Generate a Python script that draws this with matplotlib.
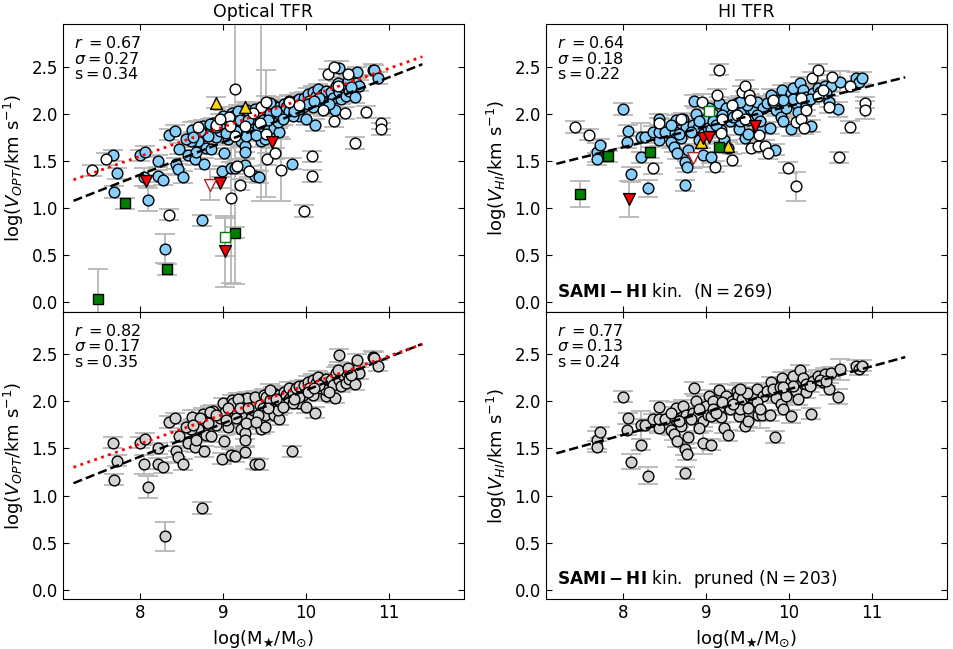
import numpy as np
import matplotlib
matplotlib.use('Agg')
import matplotlib.pyplot as plt

# ---------------------------------------------------------------
# Data: (log M*, log V, error on log V)
# ---------------------------------------------------------------

# Optical TFR, SAMI-HI kinematic sample (blue in top panel, grey in pruned panel)
opt_kin = [
    (7.68, 1.56, 0.06), (7.73, 1.37, 0.06), (7.69, 1.17, 0.06), (8.00, 1.56, 0.06),
    (8.06, 1.60, 0.06), (8.05, 1.33, 0.10), (8.10, 1.09, 0.12), (8.22, 1.50, 0.06),
    (8.22, 1.34, 0.06), (8.28, 1.30, 0.06), (8.30, 0.57, 0.155), (8.35, 1.78, 0.06),
    (8.42, 1.82, 0.06), (8.43, 1.47, 0.06), (8.46, 1.41, 0.06), (8.47, 1.63, 0.06),
    (8.52, 1.33, 0.06), (8.58, 1.56, 0.06), (8.63, 1.83, 0.08), (8.66, 1.52, 0.06),
    (8.68, 1.59, 0.06), (8.75, 0.87, 0.06), (8.77, 1.47, 0.06), (8.76, 1.87, 0.06),
    (8.75, 1.77, 0.06), (8.70, 1.71, 0.06), (8.61, 1.71, 0.06), (8.56, 1.73, 0.06),
    (8.80, 1.64, 0.06), (8.86, 1.63, 0.06), (8.88, 1.90, 0.06), (8.86, 1.82, 0.06),
    (8.92, 1.75, 0.06), (8.96, 1.82, 0.06), (8.99, 1.39, 0.06), (9.01, 1.58, 0.06),
    (9.00, 1.98, 0.06), (9.02, 1.89, 0.06), (9.06, 1.73, 0.06), (9.10, 1.43, 0.06),
    (9.15, 1.42, 0.06), (9.11, 2.01, 0.06), (9.12, 1.93, 0.06), (9.16, 1.82, 0.06),
    (9.22, 1.71, 0.06), (9.26, 1.66, 0.06), (9.27, 1.59, 0.06), (9.27, 1.46, 0.06),
    (9.23, 2.03, 0.06), (9.29, 2.04, 0.06), (9.34, 1.82, 0.06), (9.36, 1.91, 0.06),
    (9.37, 1.94, 0.06), (9.39, 2.05, 0.06), (9.38, 1.34, 0.06), (9.43, 1.33, 0.06),
    (9.44, 1.96, 0.06), (9.48, 1.93, 0.06), (9.50, 1.86, 0.06), (9.46, 1.71, 0.06),
    (9.50, 1.73, 0.06), (9.49, 2.07, 0.06), (9.52, 2.05, 0.06), (9.56, 2.01, 0.06),
    (9.60, 2.09, 0.06), (9.62, 1.85, 0.06), (9.67, 1.81, 0.06), (9.66, 1.91, 0.06),
    (9.68, 2.07, 0.06), (9.68, 2.00, 0.06), (9.73, 2.10, 0.06), (9.76, 2.07, 0.06),
    (9.80, 2.14, 0.06), (9.80, 2.03, 0.06), (9.83, 1.47, 0.06), (9.84, 2.09, 0.06),
    (9.88, 2.14, 0.06), (9.91, 1.98, 0.06), (9.92, 2.16, 0.06), (9.98, 2.17, 0.06),
    (10.00, 1.94, 0.06), (10.02, 2.21, 0.06), (10.08, 2.07, 0.06), (10.08, 2.23, 0.06),
    (10.11, 1.88, 0.06), (10.12, 2.19, 0.06), (10.14, 2.26, 0.06), (10.18, 2.14, 0.06),
    (10.20, 2.21, 0.06), (10.24, 2.06, 0.06), (10.24, 2.12, 0.06), (10.24, 2.24, 0.06),
    (10.30, 2.23, 0.06), (10.32, 2.17, 0.06), (10.35, 2.04, 0.06), (10.36, 2.30, 0.06),
    (10.40, 2.49, 0.07), (10.40, 2.23, 0.06), (10.42, 2.16, 0.06), (10.44, 2.28, 0.06),
    (10.48, 2.31, 0.06), (10.48, 2.19, 0.06), (10.52, 2.24, 0.06), (10.56, 2.31, 0.06),
    (10.59, 2.18, 0.06), (10.60, 2.33, 0.06), (10.61, 2.44, 0.06), (10.64, 2.30, 0.06),
    (10.80, 2.47, 0.06), (10.82, 2.46, 0.06), (10.87, 2.38, 0.06), (9.12, 1.98, 0.06),
    (9.18, 2.03, 0.06), (9.20, 1.93, 0.06), (9.30, 1.93, 0.06), (9.42, 1.86, 0.06),
    (9.54, 1.93, 0.06), (9.56, 2.12, 0.06), (9.84, 1.98, 0.06), (9.96, 2.07, 0.06),
    (10.04, 2.14, 0.06), (10.16, 2.17, 0.06), (10.28, 2.10, 0.06), (10.38, 2.33, 0.06),
    (10.50, 2.35, 0.06), (10.54, 2.28, 0.06), (8.84, 1.89, 0.06), (8.92, 1.86, 0.06),
    (9.06, 1.93, 0.06), (8.82, 1.77, 0.06), (9.04, 1.80, 0.06), (9.28, 1.77, 0.06),
    (9.40, 1.78, 0.06), (8.72, 1.82, 0.06), (8.64, 1.75, 0.06), (9.64, 2.03, 0.06),
    (9.72, 1.94, 0.06), (9.92, 2.05, 0.06), (10.02, 2.10, 0.06), (10.10, 2.14, 0.06),
    (9.86, 2.03, 0.06),
]

# Optical TFR, galaxies removed from the kinematic sample (open circles)
opt_other = [
    (7.42, 1.40, 0.06), (7.59, 1.52, 0.06), (8.35, 0.93, 0.06), (8.70, 1.86, 0.06),
    (9.14, 2.26, 2.06), (9.07, 1.97, 0.06), (8.92, 1.88, 0.06), (9.10, 1.11, 0.90),
    (9.17, 1.45, 0.06), (9.21, 1.25, 0.06), (9.26, 1.87, 0.06), (9.31, 1.39, 0.06),
    (9.45, 1.90, 0.06), (9.46, 2.07, 1.00), (9.52, 2.13, 0.06), (9.52, 1.79, 0.67),
    (9.53, 1.52, 0.06), (9.63, 1.58, 0.06), (9.70, 1.40, 0.33), (9.36, 2.01, 0.06),
    (9.98, 0.97, 0.06), (10.07, 1.55, 0.06), (10.07, 1.34, 0.06), (10.20, 2.04, 0.06),
    (10.34, 1.92, 0.06), (10.47, 2.01, 0.06), (10.59, 1.69, 0.06), (10.72, 2.02, 0.06),
    (10.90, 1.90, 0.06), (10.90, 1.84, 0.06), (10.27, 2.42, 0.06), (10.34, 2.50, 0.06),
    (10.50, 2.42, 0.06), (10.38, 2.29, 0.06), (9.79, 2.13, 0.06), (9.92, 2.09, 0.06),
    (8.96, 1.94, 0.06), (9.08, 1.87, 0.06), (9.15, 1.76, 0.06),
]
opt_up = [(8.92, 2.12, 0.06), (9.26, 2.07, 0.06)]
opt_down = [(8.07, 1.29, 0.06), (8.97, 1.27, 0.06), (9.03, 0.54, 0.38), (9.59, 1.70, 0.06)]
opt_down_open = [(8.84, 1.25, 0.16)]
opt_sq = [(7.82, 1.05, 0.06), (8.33, 0.35, 0.06), (9.15, 0.74, 0.06), (7.50, 0.04, 0.31)]
opt_sq_open = [(9.03, 0.69, 0.20)]

# HI TFR, SAMI-HI kinematic sample
hi_kin = [
    (7.69, 1.59, 0.10), (7.69, 1.52, 0.06), (7.72, 1.67, 0.06), (8.00, 2.05, 0.06),
    (8.05, 1.70, 0.06), (8.06, 1.82, 0.06), (8.10, 1.36, 0.08), (8.22, 1.75, 0.15),
    (8.22, 1.54, 0.06), (8.27, 1.75, 0.06), (8.30, 1.21, 0.09), (8.36, 1.81, 0.06),
    (8.43, 1.72, 0.06), (8.43, 1.81, 0.06), (8.44, 1.94, 0.06), (8.51, 1.81, 0.06),
    (8.58, 1.70, 0.06), (8.62, 1.65, 0.06), (8.63, 1.81, 0.06), (8.64, 1.93, 0.06),
    (8.65, 1.58, 0.06), (8.70, 1.74, 0.06), (8.72, 1.95, 0.06), (8.75, 1.49, 0.06),
    (8.77, 1.44, 0.06), (8.78, 1.62, 0.06), (8.75, 1.24, 0.06), (8.76, 1.86, 0.06),
    (8.84, 1.88, 0.06), (8.86, 2.14, 0.06), (8.88, 2.00, 0.06), (8.90, 1.85, 0.06),
    (8.96, 1.56, 0.12), (8.96, 1.79, 0.06), (8.98, 1.93, 0.06), (9.00, 1.95, 0.06),
    (9.02, 1.85, 0.06), (9.04, 2.06, 0.06), (9.06, 1.54, 0.06), (9.06, 1.84, 0.06),
    (9.09, 2.00, 0.06), (9.16, 2.12, 0.06), (9.16, 1.93, 0.06), (9.18, 1.83, 0.06),
    (9.22, 1.72, 0.06), (9.24, 2.06, 0.06), (9.27, 1.64, 0.06), (9.29, 1.92, 0.06),
    (9.31, 2.00, 0.06), (9.37, 2.11, 0.06), (9.39, 2.06, 0.06), (9.40, 1.84, 0.06),
    (9.41, 1.92, 0.06), (9.43, 2.02, 0.06), (9.47, 1.74, 0.06), (9.51, 1.93, 0.06),
    (9.51, 1.79, 0.06), (9.53, 2.05, 0.06), (9.57, 2.04, 0.06), (9.61, 2.13, 0.06),
    (9.63, 1.85, 0.06), (9.67, 1.85, 0.06), (9.69, 2.06, 0.06), (9.73, 2.11, 0.06),
    (9.77, 1.85, 0.06), (9.78, 2.20, 0.06), (9.83, 1.62, 0.06), (9.85, 2.04, 0.06),
    (9.91, 1.97, 0.06), (9.92, 2.25, 0.06), (9.93, 1.92, 0.06), (9.99, 2.11, 0.06),
    (10.02, 1.84, 0.07), (10.02, 2.22, 0.06), (10.05, 2.27, 0.06), (10.09, 2.11, 0.06),
    (10.13, 2.33, 0.06), (10.17, 2.25, 0.06), (10.20, 2.10, 0.06), (10.21, 2.18, 0.06),
    (10.26, 1.87, 0.06), (10.29, 2.22, 0.06), (10.35, 2.27, 0.06), (10.41, 2.20, 0.06),
    (10.44, 2.29, 0.06), (10.48, 2.13, 0.06), (10.51, 2.30, 0.06), (10.59, 2.05, 0.08),
    (10.62, 2.34, 0.11), (10.81, 2.38, 0.06), (10.84, 2.34, 0.06), (10.88, 2.38, 0.06),
    (9.08, 1.92, 0.06), (9.20, 1.99, 0.06), (9.33, 1.97, 0.06), (9.49, 2.09, 0.06),
    (9.61, 1.99, 0.06), (9.81, 2.13, 0.06), (9.89, 2.15, 0.06), (9.97, 2.06, 0.06),
    (10.05, 2.16, 0.06), (10.25, 2.16, 0.06), (10.37, 2.23, 0.06), (8.92, 1.92, 0.06),
    (8.82, 1.81, 0.06), (9.12, 1.88, 0.06), (9.41, 2.13, 0.06), (9.65, 1.92, 0.20),
    (10.11, 2.02, 0.06), (9.93, 2.15, 0.06), (10.45, 2.22, 0.06), (8.58, 1.88, 0.06),
    (8.68, 1.79, 0.06), (8.92, 1.72, 0.06),
]

# HI TFR, galaxies removed from the kinematic sample (open circles)
hi_other = [
    (7.42, 1.86, 0.06), (7.59, 1.78, 0.06), (8.36, 1.42, 0.06), (8.44, 1.90, 0.06),
    (8.70, 1.94, 0.06), (8.95, 2.13, 0.08), (9.16, 2.47, 0.06), (9.14, 2.20, 0.06),
    (9.11, 1.44, 0.06), (9.18, 1.80, 0.06), (9.20, 1.94, 0.06), (9.32, 2.09, 0.06),
    (9.31, 1.51, 0.06), (9.37, 1.99, 0.06), (9.43, 2.23, 0.06), (9.47, 2.30, 0.06),
    (9.52, 2.20, 0.06), (9.53, 2.15, 0.06), (9.47, 1.95, 0.06), (9.54, 1.64, 0.06),
    (9.64, 1.78, 0.06), (9.63, 1.66, 0.06), (9.71, 1.66, 0.06), (9.75, 1.58, 0.06),
    (9.81, 2.15, 0.06), (9.99, 1.43, 0.06), (10.08, 1.23, 0.15), (10.08, 1.91, 0.06),
    (10.14, 1.94, 0.06), (10.18, 1.85, 0.06), (10.21, 2.04, 0.06), (10.15, 2.17, 0.06),
    (10.28, 2.38, 0.06), (10.35, 2.47, 0.06), (10.35, 2.19, 0.06), (10.41, 2.25, 0.06),
    (10.48, 2.07, 0.06), (10.52, 2.39, 0.06), (10.60, 1.54, 0.06), (10.73, 2.29, 0.06),
    (10.74, 1.86, 0.06), (10.92, 2.12, 0.06), (10.92, 2.04, 0.10),
]
hi_up = [(8.94, 1.70, 0.06), (9.27, 1.66, 0.06)]
hi_down = [(8.07, 1.10, 0.19), (8.96, 1.74, 0.06), (9.04, 1.75, 0.06), (9.59, 1.87, 0.06)]
hi_down_open = [(8.84, 1.53, 0.10)]
hi_sq = [(7.49, 1.15, 0.135), (7.82, 1.55, 0.06), (8.33, 1.59, 0.06), (9.16, 1.65, 0.06)]
hi_sq_open = [(9.04, 2.03, 0.06)]

# Fitted relations: (value at log M* = 9, slope)
opt_fit = (1.698, 0.345)
opt_fit_pruned = (1.765, 0.352)
opt_ref = (1.86, 0.311)
hi_fit = (1.863, 0.2185)
hi_fit_pruned = (1.886, 0.243)
fit_range = [7.2, 11.4]

# Fit statistics
opt_stats = ['0.67', '0.27', '0.34']
opt_stats_pruned = ['0.82', '0.17', '0.35']
hi_stats = ['0.64', '0.18', '0.22']
hi_stats_pruned = ['0.77', '0.13', '0.24']
n_all = 269
n_pruned = 203

# ---------------------------------------------------------------
BAR_COLOR = '#b8b8b8'
BLUE = '#87cefa'
GREY = '#d3d3d3'


def draw(ax, pts, marker='o', fc=BLUE, ec='black', size=60, z=3):
    x, y, e = map(np.array, zip(*pts))
    ax.errorbar(x, y, yerr=e, fmt='none', ecolor=BAR_COLOR, elinewidth=1.3,
                capsize=7, capthick=1.3, zorder=1)
    ax.scatter(x, y, marker=marker, s=size, c=fc, edgecolors=ec, linewidths=1.0, zorder=z)


def fit_line(ax, fit, style, color, lw):
    xx = np.array(fit_range)
    ax.plot(xx, fit[0] + fit[1] * (xx - 9), linestyle=style, color=color, lw=lw, zorder=10)


def stats(ax, vals):
    ax.text(0.028, 0.934, r'$r\ = %s$' % vals[0], transform=ax.transAxes, fontsize=11.5, va='center')
    ax.text(0.028, 0.880, r'$\sigma = %s$' % vals[1], transform=ax.transAxes, fontsize=11.5, va='center')
    ax.text(0.028, 0.826, r'$\rm s = %s$' % vals[2], transform=ax.transAxes, fontsize=11.5, va='center')


def special(ax, up, down, down_open, sq, sq_open):
    draw(ax, up, marker='^', fc='#ffd700', size=72, z=5)
    draw(ax, down, marker='v', fc='red', size=72, z=5)
    draw(ax, down_open, marker='v', fc='white', ec='#a52a2a', size=72, z=5)
    draw(ax, sq, marker='s', fc='green', size=62, z=5)
    draw(ax, sq_open, marker='s', fc='white', ec='green', size=62, z=5)


fig, axes = plt.subplots(2, 2, figsize=(9.54, 6.49), dpi=100, sharex=True)
plt.subplots_adjust(left=0.0657, right=0.9924, top=0.9626, bottom=0.0766, wspace=0.2036, hspace=0)

# Optical TFR, full sample
ax = axes[0, 0]
draw(ax, opt_kin)
draw(ax, opt_other, fc='white', z=4)
special(ax, opt_up, opt_down, opt_down_open, opt_sq, opt_sq_open)
fit_line(ax, opt_fit, '--', 'black', 1.8)
fit_line(ax, opt_ref, ':', 'red', 2.0)
stats(ax, opt_stats)
ax.set_title('Optical TFR', fontsize=12.5, pad=5)

# HI TFR, full sample
ax = axes[0, 1]
draw(ax, hi_kin)
draw(ax, hi_other, fc='white', z=4)
special(ax, hi_up, hi_down, hi_down_open, hi_sq, hi_sq_open)
fit_line(ax, hi_fit, '--', 'black', 1.8)
stats(ax, hi_stats)
ax.set_title('HI TFR', fontsize=12.5, pad=5)
ax.text(0.029, 0.071, r'$\mathbf{SAMI-HI}$ kin.  (N$=$%d)' % n_all, transform=ax.transAxes,
        fontsize=12.2, va='center')

# Optical TFR, pruned sample
ax = axes[1, 0]
draw(ax, opt_kin, fc=GREY)
fit_line(ax, opt_fit_pruned, '--', 'black', 1.8)
fit_line(ax, opt_ref, ':', 'red', 2.0)
stats(ax, opt_stats_pruned)

# HI TFR, pruned sample
ax = axes[1, 1]
draw(ax, hi_kin, fc=GREY)
fit_line(ax, hi_fit_pruned, '--', 'black', 1.8)
stats(ax, hi_stats_pruned)
ax.text(0.029, 0.071, r'$\mathbf{SAMI-HI}$ kin.  pruned (N$=$%d)' % n_pruned, transform=ax.transAxes,
        fontsize=12.2, va='center')

for i, row in enumerate(axes):
    for j, ax in enumerate(row):
        ax.set_xlim(7.07, 11.9)
        ax.set_ylim(-0.1, 2.95)
        ax.set_xticks([8, 9, 10, 11])
        ax.set_yticks([0.0, 0.5, 1.0, 1.5, 2.0, 2.5])
        ax.tick_params(direction='in', top=True, right=True, labelsize=12, length=4)
        ax.set_ylabel(r'log($V_{OPT}$/km s$^{-1}$)' if j == 0 else r'log($V_{HI}$/km s$^{-1}$)',
                      fontsize=13)
        if i == 1:
            ax.set_xlabel(r'log(M$_{\bigstar}$/M$_{\odot}$)', fontsize=13)

fig.savefig('out.png', dpi=100)
